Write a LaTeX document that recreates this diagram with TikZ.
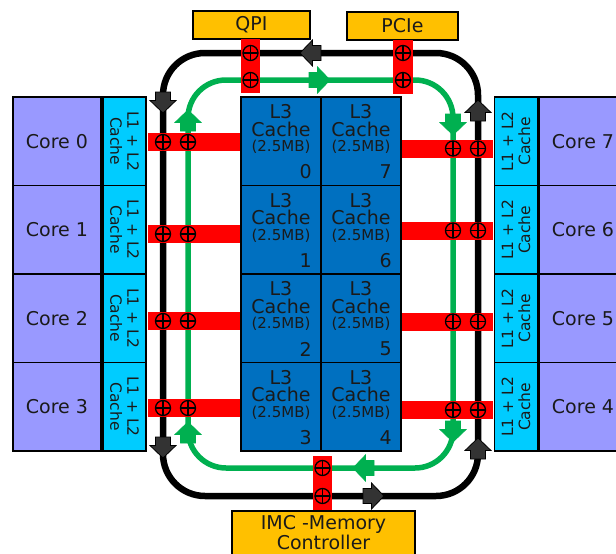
\documentclass[tikz,border=0pt]{standalone}
\usepackage{fontspec}
\setmainfont{DejaVu Sans}
\definecolor{corec}{HTML}{9999FF}
\definecolor{l1c}{HTML}{00CCFF}
\definecolor{l3c}{HTML}{0070C0}
\definecolor{goldc}{HTML}{FFC000}
\definecolor{barred}{HTML}{FF0000}
\definecolor{ringg}{HTML}{00B050}
\definecolor{arrg}{HTML}{333333}
\definecolor{txtc}{HTML}{1A1A1A}
\newcommand{\blockarr}[5]{%
  \filldraw[fill=#1, draw=#2, line width=0.8pt, line join=miter, shift={(#3,#4)}, rotate=#5]
  (0,0) -- (-12.5,13) -- (-12.5,7.5) -- (-21,7.5) -- (-21,-7.5) -- (-12.5,-7.5) -- (-12.5,-13) -- cycle;}
\begin{document}
\begin{tikzpicture}[x=1pt,y=-1pt, text=txtc,
  core/.style={draw=black, line width=1.5pt, fill=corec, minimum width=88pt, minimum height=88.5pt, inner sep=0pt, font=\fontsize{19}{22}\selectfont},
  lone/.style={draw=black, line width=1.5pt, fill=l1c, minimum width=88.5pt, minimum height=43pt, inner sep=0pt, align=center, font=\fontsize{15.5}{17}\selectfont},
  l3box/.style={draw=black, line width=1.5pt, fill=l3c, minimum width=80pt, minimum height=88.5pt, inner sep=0pt},
  bigtxt/.style={inner sep=0pt, font=\fontsize{19}{22}\selectfont},
  smalltxt/.style={inner sep=0pt, font=\fontsize{15}{17}\selectfont},
  goldbox/.style={draw=black, line width=1.5pt, fill=goldc, inner sep=0pt, font=\fontsize{19}{22}\selectfont},
  redbar/.style={fill=barred, draw=none, inner sep=0pt},
  pluscirc/.style={circle, draw=black, line width=1.3pt, minimum size=15pt, inner sep=0pt,
    path picture={\draw[line width=1.3pt] (path picture bounding box.north) -- (path picture bounding box.south)
      (path picture bounding box.west) -- (path picture bounding box.east);}},
  ringblack/.style={line width=6.5pt, draw=black, rounded corners=42pt},
  ringgreen/.style={line width=5.5pt, draw=ringg, rounded corners=38pt}
]
\useasboundingbox (0,0) rectangle (616,554);
\clip (0,0) rectangle (616,554);

% rings
\draw[ringblack] (163,53) rectangle (478,496);
\draw[ringgreen] (188,80) rectangle (453,468);

% black arrows (counterclockwise)
\blockarr{arrg}{black}{300}{53}{180}
\blockarr{arrg}{black}{163}{113}{-90}
\blockarr{arrg}{black}{163}{458}{-90}
\blockarr{arrg}{black}{384}{496}{0}
\blockarr{arrg}{black}{478}{438}{90}
\blockarr{arrg}{black}{478}{100}{90}
% green arrows (clockwise)
\blockarr{ringg}{ringg}{330}{80}{0}
\blockarr{ringg}{ringg}{453}{135}{-90}
\blockarr{ringg}{ringg}{453}{442}{-90}
\blockarr{ringg}{ringg}{353}{468}{180}
\blockarr{ringg}{ringg}{188}{422}{90}
\blockarr{ringg}{ringg}{188}{110}{90}

% left side
\foreach \i/\y/\b in {0/141.25/142,1/229.75/234,2/318.25/321,3/406.75/408}{
  \node[core] (core\i) at (57,\y) {Core \i};
  \node[lone, rotate=-90] (lc\i) at (124.5,\y) {L1 + L2\\Cache};
  \node[redbar, minimum width=92pt, minimum height=18pt] (bar\i) at (194,\b) {};
  \node[pluscirc] (pb\i) at (163,\b) {};
  \node[pluscirc] (pg\i) at (188,\b) {};
}
% right side
\foreach \i/\y/\b in {7/141.25/148.5,6/229.75/230.5,5/318.25/321.5,4/406.75/410}{
  \node[core] (core\i) at (583,\y) {Core \i};
  \node[lone, rotate=90] (lc\i) at (516,\y) {L1 + L2\\Cache};
  \node[redbar, minimum width=91pt, minimum height=18pt] (bar\i) at (447.5,\b) {};
  \node[pluscirc] (pg\i) at (453,\b) {};
  \node[pluscirc] (pb\i) at (478,\b) {};
}

% L3 cache blocks
\foreach \n/\cx/\ty in {0/281/97,1/281/185.5,2/281/274,3/281/362.5,7/361/97,6/361/185.5,5/361/274,4/361/362.5}{
  \node[l3box] (l3\n) at (\cx,\ty+44.25) {};
  \node[bigtxt] (l3a\n) at (\cx,\ty+15) {L3};
  \node[bigtxt] (l3c\n) at (\cx,\ty+32) {Cache};
  \node[smalltxt] (l3m\n) at (\cx,\ty+50) {(2.5MB)};
  \node[bigtxt, anchor=east] (l3n\n) at (\cx+31,\ty+75) {\n};
}

% top agents
\node[goldbox, minimum width=117pt, minimum height=28pt] (qpi) at (251.5,25) {QPI};
\node[goldbox, minimum width=111pt, minimum height=28pt] (pcie) at (402.5,26) {PCIe};
\node[redbar, minimum width=19pt, minimum height=54pt] (qbar) at (250.5,66) {};
\node[redbar, minimum width=20pt, minimum height=54pt] (pbar) at (403,67) {};
\node[pluscirc] (qpb) at (250.5,53) {};
\node[pluscirc] (qpg) at (250.5,80) {};
\node[pluscirc] (ppb) at (403,53) {};
\node[pluscirc] (ppg) at (403,80) {};

% bottom agent
\node[redbar, minimum width=19pt, minimum height=55pt] (mbar) at (322.5,483.5) {};
\node[pluscirc] (mpg) at (322.5,468) {};
\node[pluscirc] (mpb) at (322.5,496) {};
\node[goldbox, minimum width=183pt, minimum height=60pt] (imc) at (323.5,541) {};
\node[inner sep=0pt, align=center, font=\fontsize{19}{20}\selectfont] (imctxt) at (323.5,533) {IMC -Memory\\Controller};
\end{tikzpicture}
\end{document}
